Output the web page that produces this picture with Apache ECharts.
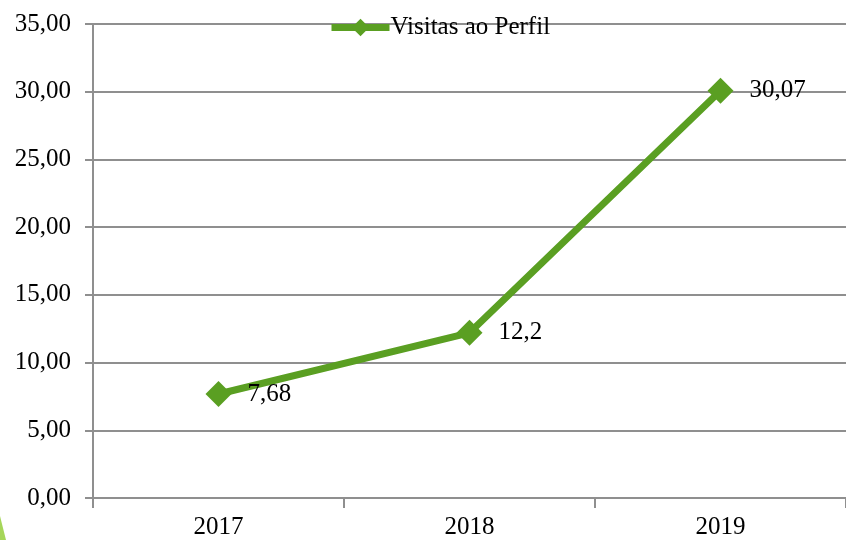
<!DOCTYPE html>
<html>
<head>
<meta charset="utf-8">
<script src="https://cdn.jsdelivr.net/npm/echarts@6/dist/echarts.min.js"></script>
<style>
  html, body { margin: 0; padding: 0; background: #fff; }
  #chart { width: 846px; height: 540px; }
</style>
</head>
<body>
<div id="chart"></div>
<script>
const categories = ["2017", "2018", "2019"];
const visitas = [7.68, 12.2, 30.07];
const visitasLabels = ["7,68", "12,2", "30,07"];
const seriesName = "Visitas ao Perfil";

const fmt = (v) => v.toFixed(2).replace(".", ",");
const green = "#5a9f22";
const gray = "#8f8f8f";
const font = "Liberation Serif";

const chart = echarts.init(document.getElementById("chart"));
chart.setOption({
  animation: false,
  textStyle: { fontFamily: font },
  grid: { left: 93, right: -3, top: 24, bottom: 42, containLabel: false },
  legend: {
    left: 323,
    top: 10,
    itemWidth: 58,
    itemHeight: 22,
    itemGap: 4,
    lineStyle: { width: 7 },
    textStyle: { fontFamily: font, fontSize: 25, color: "#000", padding: [0, 0, 0, -4] },
    data: [seriesName],
  },
  xAxis: {
    type: "category",
    data: categories,
    boundaryGap: true,
    axisLine: { lineStyle: { color: gray, width: 2 } },
    axisTick: { show: true, length: 10, lineStyle: { color: gray, width: 2 } },
    axisLabel: { fontFamily: font, fontSize: 25, color: "#000", margin: 17 },
  },
  yAxis: {
    type: "value",
    min: 0,
    max: 35,
    interval: 5,
    axisLine: { show: true, lineStyle: { color: gray, width: 2 } },
    axisTick: { show: true, length: 8, lineStyle: { color: gray, width: 2 } },
    splitLine: { show: true, lineStyle: { color: gray, width: 2 } },
    axisLabel: { fontFamily: font, fontSize: 25, color: "#000", margin: 22, formatter: fmt },
  },
  series: [
    {
      name: seriesName,
      type: "line",
      data: visitas,
      symbol: "diamond",
      symbolSize: 26,
      lineStyle: { color: green, width: 7 },
      itemStyle: { color: green },
      label: {
        show: true,
        position: "right",
        distance: 16,
        fontFamily: font,
        fontSize: 25,
        color: "#000",
        formatter: (p) => visitasLabels[p.dataIndex],
      },
    },
  ],
  graphic: [
    {
      type: "polygon",
      shape: { points: [[0, 540], [0, 516], [6, 540]] },
      style: { fill: "#a6d65a" },
      silent: true,
    },
  ],
});
</script>
</body>
</html>
